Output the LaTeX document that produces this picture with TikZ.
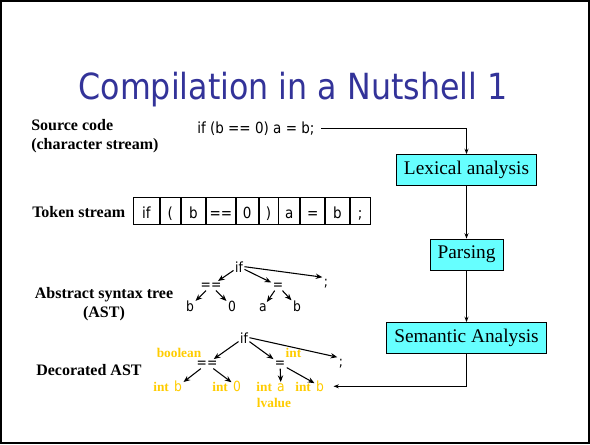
\documentclass[tikz,border=0pt]{standalone}
\usepackage{fontspec}
\setmainfont{Liberation Serif}
\newfontfamily\tahoma[FakeStretch=0.88]{DejaVu Sans}
\usetikzlibrary{arrows.meta}
\definecolor{titleblue}{RGB}{51,51,153}
\definecolor{stagecyan}{RGB}{102,255,255}
\definecolor{typegold}{RGB}{255,204,0}

\begin{document}
\begin{tikzpicture}[x=0.75pt, y=-0.75pt,
  lbl/.style={font=\bfseries\fontsize{12}{14.25}\selectfont, inner sep=0pt},
  stage/.style={draw, fill=stagecyan, font=\fontsize{14.5}{16}\selectfont,
    minimum height=23.25pt, inner xsep=5.6pt, inner ysep=0pt, line width=0.6pt},
  code/.style={font=\tahoma\fontsize{11.5}{13}\selectfont, inner sep=0pt},
  tok/.style={draw, line width=0.6pt, font=\tahoma\fontsize{11.5}{13}\selectfont,
    minimum height=20.25pt, text height=11.25pt, text depth=0pt,
    inner sep=0pt, anchor=west},
  tn/.style={font=\tahoma\fontsize{10.5}{12}\selectfont, inner sep=1pt, anchor=base},
  tyn/.style={font=\tahoma\fontsize{10.5}{12}\selectfont, text=typegold, inner sep=1pt, anchor=base},
  ty/.style={font=\bfseries\fontsize{10}{12}\selectfont, text=typegold, inner sep=0pt, anchor=base},
  flow/.style={-{Stealth[length=4pt,width=3pt]}, line width=0.6pt},
  tree/.style={-{Stealth[length=5pt,width=4pt]}, line width=0.8pt}
]
% page and frame
\useasboundingbox (0,0) rectangle (590,444);
\fill[white] (0,0) rectangle (590,444);
\draw[line width=1.5pt] (1,1) rectangle (589,443);

% title
\node[font=\tahoma\fontsize{27}{32}\selectfont, text=titleblue, anchor=base, inner sep=0pt]
  (title) at (293,99) {Compilation in a Nutshell 1};

% row labels
\node[lbl, align=left, anchor=west] (srclbl) at (31,136) {Source code\\(character stream)};
\node[lbl, anchor=base west] (toklbl) at (32,217) {Token stream};
\node[lbl, align=center] (astlbl) at (104,304) {Abstract syntax tree\\(AST)};
\node[lbl, anchor=base west] (declbl) at (36,375) {Decorated AST};

% source text
\node[code, anchor=base west] (src) at (197,133) {if (b == 0) a = b;};

% token stream
\node[tok, minimum width=19.5pt] (t1) at (133,210.5) {if};
\node[tok, minimum width=15pt]   (t2) at (t1.east) {(};
\node[tok, minimum width=18.5pt] (t3) at (t2.east) {b};
\node[tok, minimum width=21.75pt] (t4) at (t3.east) {==};
\node[tok, minimum width=16.5pt] (t5) at (t4.east) {0};
\node[tok, minimum width=14.25pt] (t6) at (t5.east) {)};
\node[tok, minimum width=15.75pt] (t7) at (t6.east) {a};
\node[tok, minimum width=18pt]   (t8) at (t7.east) {=};
\node[tok, minimum width=18pt]   (t9) at (t8.east) {b};
\node[tok, minimum width=14.75pt] (t10) at (t9.east) {;};

% compiler stages
\node[stage] (lex) at (466.5,170) {Lexical analysis};
\node[stage] (par) at (466.5,254.5) {Parsing};
\node[stage] (sem) at (466.5,338) {Semantic Analysis};

% abstract syntax tree
\node[tn] (aif) at (239,272) {if};
\node[tn] (aeq) at (211,289) {==};
\node[tn] (aas) at (278,289) {=};
\node[tn] (asemi) at (326,286) {;};
\node[tn] (ab1) at (190,311.5) {b};
\node[tn] (azero) at (232,311.5) {0};
\node[tn] (aa) at (263,311.5) {a};
\node[tn] (ab2) at (297,311.5) {b};

\draw[tree] (aif) -- (aeq);
\draw[tree] (aif) -- (aas);
\draw[tree] (aif.east) -- (asemi.north west);
\draw[tree] (aeq) -- (ab1);
\draw[tree] (aeq) -- (azero);
\draw[tree] (aas) -- (aa);
\draw[tree] (aas) -- (ab2);

% decorated tree
\node[tn] (dif) at (244,343) {if};
\node[tn] (deq) at (207,367) {==};
\node[tn] (das) at (280,367) {=};
\node[tn] (dsemi) at (341,366) {;};
\node[tyn] (db1) at (178,391.5) {b};
\node[tyn] (dzero) at (237,391.5) {0};
\node[tyn] (da) at (281,391.5) {a};
\node[tyn] (db2) at (320,391.5) {b};

\node[ty, anchor=base east] (tb1) at ([xshift=-2.5pt]db1.base west) {int};
\node[ty, anchor=base east] (tzero) at ([xshift=-2.5pt]dzero.base west) {int};
\node[ty, anchor=base east] (ta) at ([xshift=-2.5pt]da.base west) {int};
\node[ty, anchor=base east] (tb2) at ([xshift=-2.5pt]db2.base west) {int};
\node[ty] (tlval) at (274,407) {lvalue};
\node[ty] (tbool) at (179,357) {boolean};
\node[ty] (tassign) at (293.5,357) {int};

\draw[tree] (dif) -- (deq);
\draw[tree] (dif) -- (das);
\draw[tree] (dif.east) -- (dsemi.north west);
\draw[tree] (deq) -- (db1);
\draw[tree] (deq) -- (dzero);
\draw[tree] (das) -- (da);
\draw[tree] (das) -- (db2);

% data flow between stages
\draw[flow, shorten <=5pt] (src.east) -| (lex.north);
\draw[flow] (lex) -- (par);
\draw[flow] (par) -- (sem);
\draw[flow, shorten >=6pt] (sem.south) |- (db2.east);
\end{tikzpicture}
\end{document}
